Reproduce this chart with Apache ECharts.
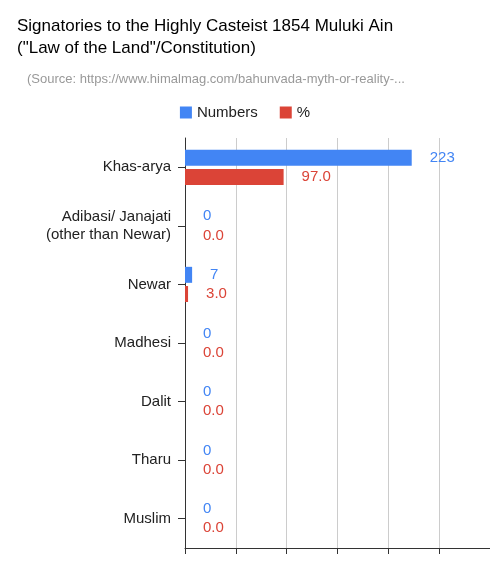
<!DOCTYPE html>
<html><head><meta charset="utf-8">
<script src="https://cdn.jsdelivr.net/npm/echarts@6/dist/echarts.min.js"></script>
<style>html,body{margin:0;padding:0;background:#fff}#c{width:490px;height:564px}</style>
</head><body><div id="c"></div>
<script>
const categories = ["Khas-arya","Adibasi/ Janajati\n(other than Newar)","Newar","Madhesi","Dalit","Tharu","Muslim"];
const numbers = [223,0,7,0,0,0,0];
const percent = [97.0,0.0,3.0,0.0,0.0,0.0,0.0];
const F = 'Liberation Sans, Arial, sans-serif';
const chart = echarts.init(document.getElementById('c'));
chart.setOption({
  animation:false,
  title:[{text:'Signatories to the Highly Casteist 1854 Muluki Ain\n("Law of the Land"/Constitution)',left:12,top:10,
    textStyle:{fontFamily:F,fontSize:17,fontWeight:'normal',color:'#000',lineHeight:22}},
    {text:'(Source: https://www.himalmag.com/bahunvada-myth-or-reality-...',left:22,top:68,
    textStyle:{fontFamily:F,fontSize:13,fontWeight:'normal',color:'#999'}}],
  legend:{top:100,left:'center',itemWidth:12,itemHeight:12,icon:'rect',itemGap:22,
    textStyle:{fontFamily:F,fontSize:15,color:'#222'}},
  grid:{left:185,right:0,top:138,bottom:16},
  xAxis:{type:'value',min:0,max:300,interval:50,axisLabel:{show:false},
    splitLine:{lineStyle:{color:'#ccc'}},axisLine:{show:true,lineStyle:{color:'#333'}},
    axisTick:{show:true,length:6,lineStyle:{color:'#333'}}},
  yAxis:{type:'category',data:categories,inverse:true,
    axisLine:{lineStyle:{color:'#333'}},axisTick:{show:true,alignWithLabel:true,length:7,lineStyle:{color:'#333'}},
    axisLabel:{fontFamily:F,fontSize:15,color:'#222',margin:14,lineHeight:18}},
  series:[
    {name:'Numbers',type:'bar',data:numbers,barWidth:16,barGap:'20%',itemStyle:{color:'#4285f4'},
     label:{show:true,position:'right',distance:18,color:'#4285f4',fontFamily:F,fontSize:15}},
    {name:'%',type:'bar',data:percent,barWidth:16,itemStyle:{color:'#db4437'},
     label:{show:true,position:'right',distance:18,color:'#db4437',fontFamily:F,fontSize:15,
       formatter:p=>p.value.toFixed(1)}}
  ]
});
</script></body></html>
